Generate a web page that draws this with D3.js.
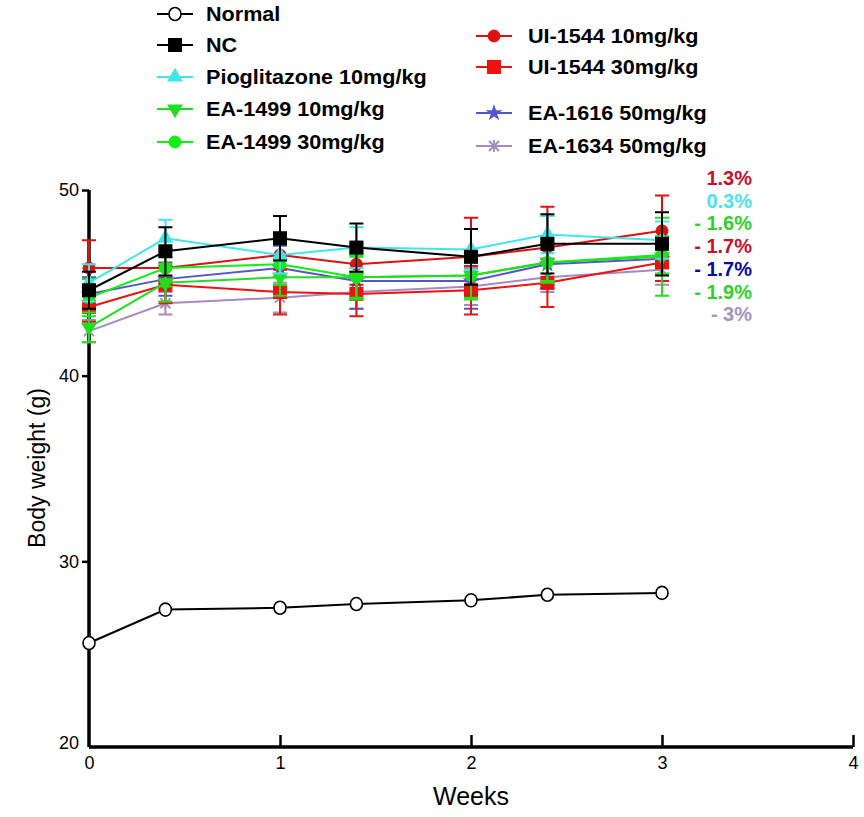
<!DOCTYPE html>
<html>
<head>
<meta charset="utf-8">
<script src="https://cdn.jsdelivr.net/npm/d3@7"></script>
<style>
  body { margin: 0; background: #fff; }
  text { font-family: Arial, "Liberation Sans", sans-serif; }
</style>
</head>
<body>
<svg id="svg"></svg>
<script>
// weeks at which body weight was measured
let weeks = [0, 0.4, 1, 1.4, 2, 2.4, 3];

let normalMean = [25.6, 27.4, 27.5, 27.7, 27.9, 28.2, 28.3];
let ncMean     = [44.6, 46.7, 47.4, 46.9, 46.4, 47.1, 47.1];
let ncErr      = [1.0, 1.3, 1.2, 1.3, 1.5, 1.6, 1.7];
let pioMean    = [45.0, 47.4, 46.5, 46.9, 46.8, 47.6, 47.3];
let pioErr     = [1.0, 1.0, 1.0, 1.1, 1.1, 1.0, 1.0];
let ea1499_10Mean = [42.6, 45.0, 45.3, 45.3, 45.4, 46.1, 46.4];
let ea1499_10Err  = [0.8, 1.0, 1.0, 1.1, 1.3, 1.1, 2.1];
let ea1499_30Mean = [44.2, 45.8, 46.0, 45.3, 45.4, 46.1, 46.5];
let ea1499_30Err  = [1.0, 1.0, 1.1, 1.2, 1.2, 1.0, 1.0];
let ui1544_10Mean = [45.8, 45.8, 46.5, 46.0, 46.4, 46.9, 47.8];
let ui1544_10Err  = [1.5, 1.0, 1.2, 1.1, 2.1, 2.2, 1.9];
let ui1544_30Mean = [43.7, 44.9, 44.5, 44.4, 44.6, 45.0, 46.1];
let ui1544_30Err  = [0.8, 1.0, 1.2, 1.2, 1.3, 1.3, 1.0];
let ea1616Mean = [44.4, 45.2, 45.8, 45.1, 45.1, 46.0, 46.3];
let ea1616Err  = [0.9, 0.9, 1.2, 1.5, 1.5, 1.1, 1.2];
let ea1634Mean = [42.4, 43.9, 44.2, 44.5, 44.8, 45.3, 45.7];
let ea1634Err  = [0.6, 0.6, 0.8, 0.9, 1.0, 0.8, 0.8];

let xTicks = [0, 1, 2, 3, 4];
let yTicks = [20, 30, 40, 50];

let changeLabels = ["1.3%", "0.3%", "- 1.6%", "- 1.7%", "- 1.7%", "- 1.9%", "- 3%"];
let changeColors = ["#c8102e", "#4de3ec", "#2ed12e", "#c8102e", "#0b0b9c", "#2ed12e", "#a592bd"];

let series = [
  {name: "Normal", mean: normalMean, err: null, color: "#000", shape: "circle", open: true},
  {name: "NC", mean: ncMean, err: ncErr, color: "#000", shape: "square"},
  {name: "Pioglitazone 10mg/kg", mean: pioMean, err: pioErr, color: "#3ee6ea", shape: "triangle"},
  {name: "EA-1499 10mg/kg", mean: ea1499_10Mean, err: ea1499_10Err, color: "#22dd22", shape: "down"},
  {name: "EA-1499 30mg/kg", mean: ea1499_30Mean, err: ea1499_30Err, color: "#11ee11", shape: "circle"},
  {name: "UI-1544 10mg/kg", mean: ui1544_10Mean, err: ui1544_10Err, color: "#dd1111", shape: "circle"},
  {name: "UI-1544 30mg/kg", mean: ui1544_30Mean, err: ui1544_30Err, color: "#ee1111", shape: "square"},
  {name: "EA-1616 50mg/kg", mean: ea1616Mean, err: ea1616Err, color: "#5555cc", shape: "star"},
  {name: "EA-1634 50mg/kg", mean: ea1634Mean, err: ea1634Err, color: "#a58ac0", shape: "x"}
];

let layout = {"width": 864, "height": 817,
              "left": 89, "right": 853, "top": 190, "bottom": 747};

let svg = d3.select("#svg")
            .attr("width", layout.width)
            .attr("height", layout.height);

let xScale = d3.scaleLinear().domain([0, 4]).range([layout.left, layout.right]);
let yScale = d3.scaleLinear().domain([20, 50]).range([layout.bottom, layout.top]);

function marker(g, shape, color, open) {
  if (shape === "circle") {
    g.append("ellipse").attr("rx", 6).attr("ry", open ? 6.5 : 6)
      .attr("fill", open ? "#fff" : color)
      .attr("stroke", color).attr("stroke-width", open ? 1.6 : 1);
  } else if (shape === "square") {
    g.append("rect").attr("x", -7).attr("y", -7).attr("width", 14).attr("height", 14).attr("fill", color);
  } else if (shape === "triangle") {
    g.append("path").attr("d", d3.symbol(d3.symbolTriangle, 110)()).attr("fill", color);
  } else if (shape === "down") {
    g.append("path").attr("d", d3.symbol(d3.symbolTriangle, 110)()).attr("transform", "rotate(180)").attr("fill", color);
  } else if (shape === "star") {
    g.append("path").attr("d", d3.symbol(d3.symbolStar, 90)()).attr("fill", color);
  } else if (shape === "x") {
    g.append("path").attr("d", "M-5,-5L5,5M-5,5L5,-5M0,-6L0,6")
      .attr("stroke", color).attr("stroke-width", 1.8).attr("fill", "none");
  }
}

// axes
let xAxis = svg.append("g")
  .attr("transform", `translate(0,${layout.bottom})`)
  .call(d3.axisBottom(xScale).tickValues(xTicks).tickSize(-12).tickPadding(9).tickFormat(d3.format("d")));
let yAxis = svg.append("g")
  .attr("transform", `translate(${layout.left},0)`)
  .call(d3.axisLeft(yScale).tickValues(yTicks).tickSize(7).tickPadding(3));

for (let ax of [xAxis, yAxis]) {
  ax.select(".domain").attr("stroke", "#000").attr("stroke-width", 3.5);
  ax.selectAll(".tick line").attr("stroke", "#000").attr("stroke-width", 2.5);
  ax.selectAll(".tick text").attr("font-size", 18).attr("fill", "#000")
    .attr("font-family", "Arial, 'Liberation Sans', sans-serif");
}
// no tick marks at the origin
xAxis.selectAll(".tick").filter(d => d === 0).select("line").remove();
yAxis.selectAll(".tick").filter(d => d === 20).select("line").remove();
yAxis.selectAll(".tick").filter(d => d === 20).select("text").attr("dy", "0.1em");
xAxis.selectAll(".domain").attr("d", `M${layout.left},0H${layout.right}`);
yAxis.selectAll(".domain").attr("d", `M0,${layout.top}V${layout.bottom}`);

svg.append("text")
  .attr("x", xScale(2)).attr("y", 805)
  .attr("text-anchor", "middle").attr("font-size", 25)
  .text("Weeks");
svg.append("text")
  .attr("transform", `translate(45,468) rotate(-90)`)
  .attr("text-anchor", "middle").attr("font-size", 23)
  .text("Body weight (g)");

let line = d3.line().x(d => xScale(d[0])).y(d => yScale(d[1]));
let plot = svg.append("g");

// draw treated groups back to front, NC and Normal last
let order = [8, 7, 6, 5, 4, 3, 2, 1, 0];
for (let i of order) {
  let s = series[i];
  let pts = weeks.map((w, j) => [w, s.mean[j]]);
  let g = plot.append("g");
  g.append("path").datum(pts).attr("d", line)
    .attr("fill", "none").attr("stroke", s.color).attr("stroke-width", 2);
  if (s.err) {
    g.selectAll(".eb").data(pts.map((p, j) => [p[0], p[1], s.err[j]])).join("path")
      .attr("d", d => {
        let x = xScale(d[0]), y0 = yScale(d[1] - d[2]), y1 = yScale(d[1] + d[2]);
        return `M${x - 7},${y0}H${x + 7}M${x},${y0}V${y1}M${x - 7},${y1}H${x + 7}`;
      })
      .attr("fill", "none").attr("stroke", s.color).attr("stroke-width", 2);
  }
  g.selectAll(".m").data(pts).join("g")
    .attr("transform", d => `translate(${xScale(d[0])},${yScale(d[1])})`)
    .each(function() { marker(d3.select(this), s.shape, s.color, s.open); });
}

// legend
let legendPos = [
  [175, 14], [175, 45], [175, 77], [175, 109], [175, 142],
  [494, 36], [494, 67], [494, 113], [494, 146]
];
series.forEach((s, i) => {
  let [lx, ly] = legendPos[i];
  let g = svg.append("g").attr("transform", `translate(${lx},${ly})`);
  g.append("line").attr("x1", -18).attr("x2", 18).attr("stroke", s.color).attr("stroke-width", 2);
  marker(g, s.shape, s.color, s.open);
  g.append("text").attr("transform", `translate(${i < 5 ? 31 : 34},0) scale(1.08,1)`).attr("dy", "0.35em")
    .attr("font-size", 20).attr("font-weight", "bold").text(s.name);
});

// percent change annotations
svg.selectAll(".pct").data(changeLabels).join("text")
  .attr("x", 752).attr("y", (d, i) => 178 + i * 22.7)
  .attr("dy", "0.35em").attr("text-anchor", "end")
  .attr("font-size", 20).attr("font-weight", "bold")
  .attr("fill", (d, i) => changeColors[i])
  .text(d => d);
</script>
</body>
</html>
